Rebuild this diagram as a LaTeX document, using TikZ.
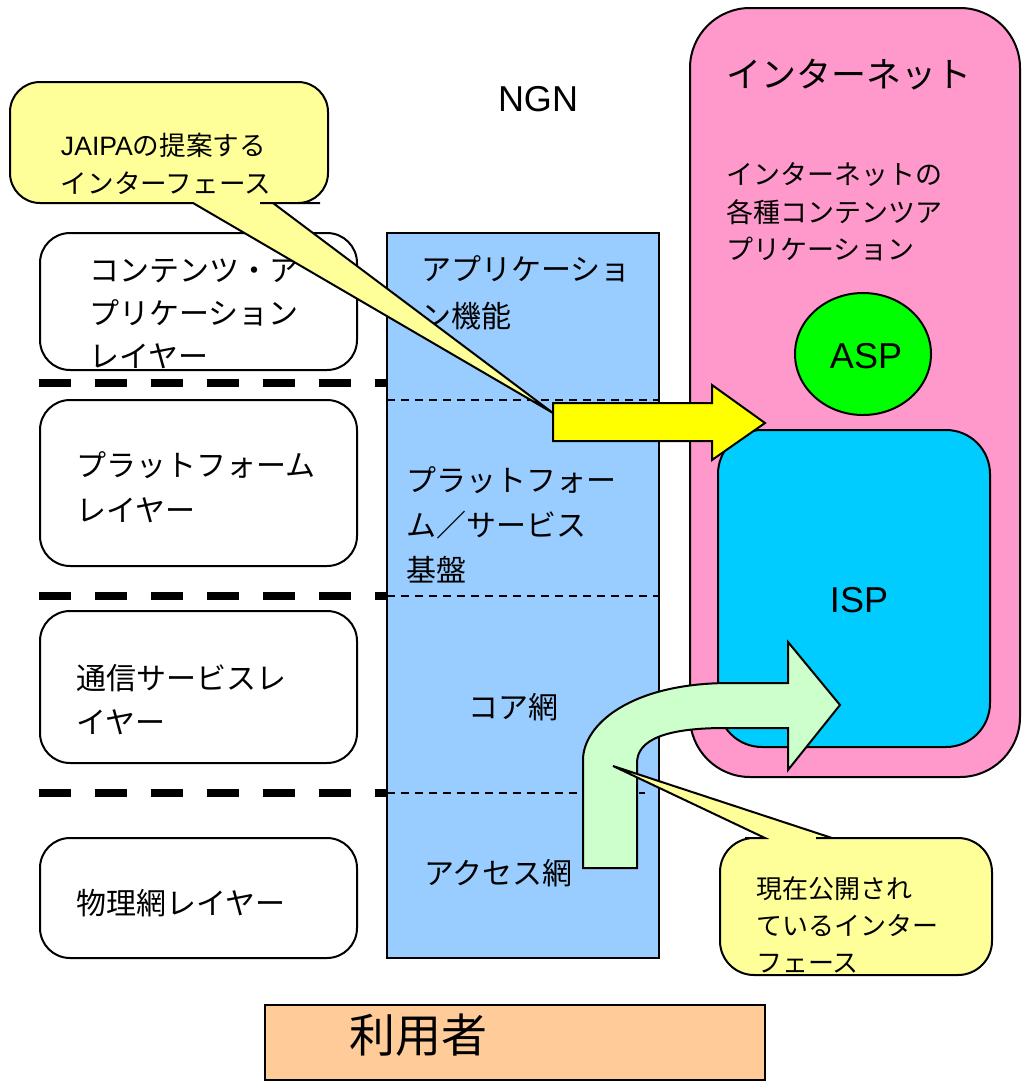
\documentclass[tikz,border=0pt]{standalone}
\usepackage{fontspec}
\setmainfont{Noto Sans CJK JP}
\newfontfamily\lat{Liberation Sans}
\usetikzlibrary{shapes.geometric}
\definecolor{pinkbg}{HTML}{FF99CC}
\definecolor{ispblue}{HTML}{00CCFF}
\definecolor{aspgreen}{HTML}{00FF00}
\definecolor{colblue}{HTML}{99CCFF}
\definecolor{arrowyellow}{HTML}{FFFF00}
\definecolor{calloutyellow}{HTML}{FFFF99}
\definecolor{arrowgreen}{HTML}{CCFFCC}
\definecolor{userorange}{HTML}{FFCC99}
\newcommand{\fs}[2]{\fontsize{#1pt}{#2pt}\selectfont}
\begin{document}
\begin{tikzpicture}[x=0.5pt,y=-0.5pt,line width=1pt,
  layerbox/.style={draw,fill=white,rounded corners=15pt,minimum width=158.5pt,inner sep=0pt},
  txt/.style={inner sep=0pt,anchor=west,align=left},
  sep/.style={line width=4pt,dash pattern=on 16pt off 12pt},
  thindash/.style={line width=0.6pt,dash pattern=on 4pt off 3pt}]
\useasboundingbox (0,0) rectangle (1024,1082);

% Internet region
\node[draw,fill=pinkbg,rounded corners=30pt,minimum width=165pt,minimum height=384.5pt,inner sep=0pt] (inet) at (855,392.5) {};
\node[draw,fill=ispblue,rounded corners=22pt,minimum width=136pt,minimum height=158.5pt,inner sep=0pt] (isp) at (854,588.5) {};
\node[draw,fill=aspgreen,ellipse,minimum width=68pt,minimum height=61pt,inner sep=0pt] (asp) at (863,354) {};
\node[inner sep=0pt,font=\lat\fs{18}{20}] (asptxt) at (866,356) {ASP};
\node[inner sep=0pt,font=\lat\fs{18}{20}] (isptxt) at (859,600) {ISP};
\node[txt,font=\fs{17.5}{21}] (inettitle) at (725,75) {インターネット};
\node[txt,font=\fs{13.5}{18.75}] (inetsub) at (725,212) {インターネットの\\各種コンテンツア\\プリケーション};

% NGN column
\node[draw,fill=colblue,minimum width=136pt,minimum height=362.5pt,inner sep=0pt] (ngn) at (523,595.5) {};
\draw[thindash] (387,400) -- (659,400);
\draw[thindash] (387,596) -- (659,596);
\draw[thindash] (387,793) -- (645,793);
\node[inner sep=0pt,font=\lat\fs{18}{20}] (ngntxt) at (538,99) {NGN};
\node[txt,font=\fs{15}{23.5}] (col1) at (420,293) {アプリケーショ\\ン機能};
\node[txt,font=\fs{15}{22.5}] (col2) at (405,525) {プラットフォー\\ム／サービス\\基盤};
\node[txt,font=\fs{15}{22.5}] (col3) at (467,707) {コア網};
\node[txt,font=\fs{15}{22.5}] (col4) at (423,873) {アクセス網};

% Layer boxes
\node[layerbox,minimum height=68.5pt] (l1) at (198.5,301.5) {};
\node[layerbox,minimum height=83pt] (l2) at (198.5,483) {};
\node[layerbox,minimum height=76pt] (l3) at (198.5,687) {};
\node[layerbox,minimum height=60pt] (l4) at (198.5,898) {};
\node[txt,font=\fs{15}{21.5}] (l1t) at (88,314) {コンテンツ・ア\\プリケーション\\レイヤー};
\node[txt,font=\fs{15}{22.5}] (l2t) at (75,487) {プラットフォーム\\レイヤー};
\node[txt,font=\fs{15}{22}] (l3t) at (75,700) {通信サービスレ\\イヤー};
\node[txt,font=\fs{15}{22.5}] (l4t) at (75,903) {物理網レイヤー};

% Separators
\draw[sep] (39,383) -- (387,383);
\draw[sep] (39,596) -- (387,596);
\draw[sep] (39,793) -- (387,793);

% Yellow arrow
\draw[fill=arrowyellow] (553,403) -- (712,403) -- (712,385) -- (765,423) -- (712,460) -- (712,441) -- (553,441) -- cycle;

% Callout 1
\draw[fill=calloutyellow] (273,203) -- (553,413) -- (193,203) -- (170,203) [rounded corners=15pt] -- (10,203) -- (10,82) -- (328,82) -- (328,203) -- (290,203) [sharp corners] -- cycle;
\node[txt,font=\fs{13.3}{19}] (c1t) at (60,164) {{\lat JAIPA}の提案する\\インターフェース};

% Green arrow
\draw[fill=arrowgreen] (583,868) -- (583,760) .. controls (583,725) and (630,683) .. (730,683) -- (788,683) -- (788,642) -- (840,705) -- (788,770) -- (788,728) -- (725,728) .. controls (665,728) and (637,740) .. (637,763) -- (637,868) -- cycle;

% Callout 2
\draw[fill=calloutyellow] (832,838) -- (613,766) -- (765,838) -- (745,838) [rounded corners=17pt] -- (720,838) -- (720,975) -- (992,975) -- (992,838) -- (850,838) [sharp corners] -- cycle;
\node[txt,font=\fs{13}{18.5}] (c2t) at (755,925) {現在公開され\\ているインター\\フェース};

% User
\node[draw,fill=userorange,minimum width=250pt,minimum height=37.5pt,inner sep=0pt] (user) at (515,1042.5) {};
\node[txt,font=\fs{23}{26}] (usert) at (348,1035) {利用者};
\end{tikzpicture}
\end{document}
